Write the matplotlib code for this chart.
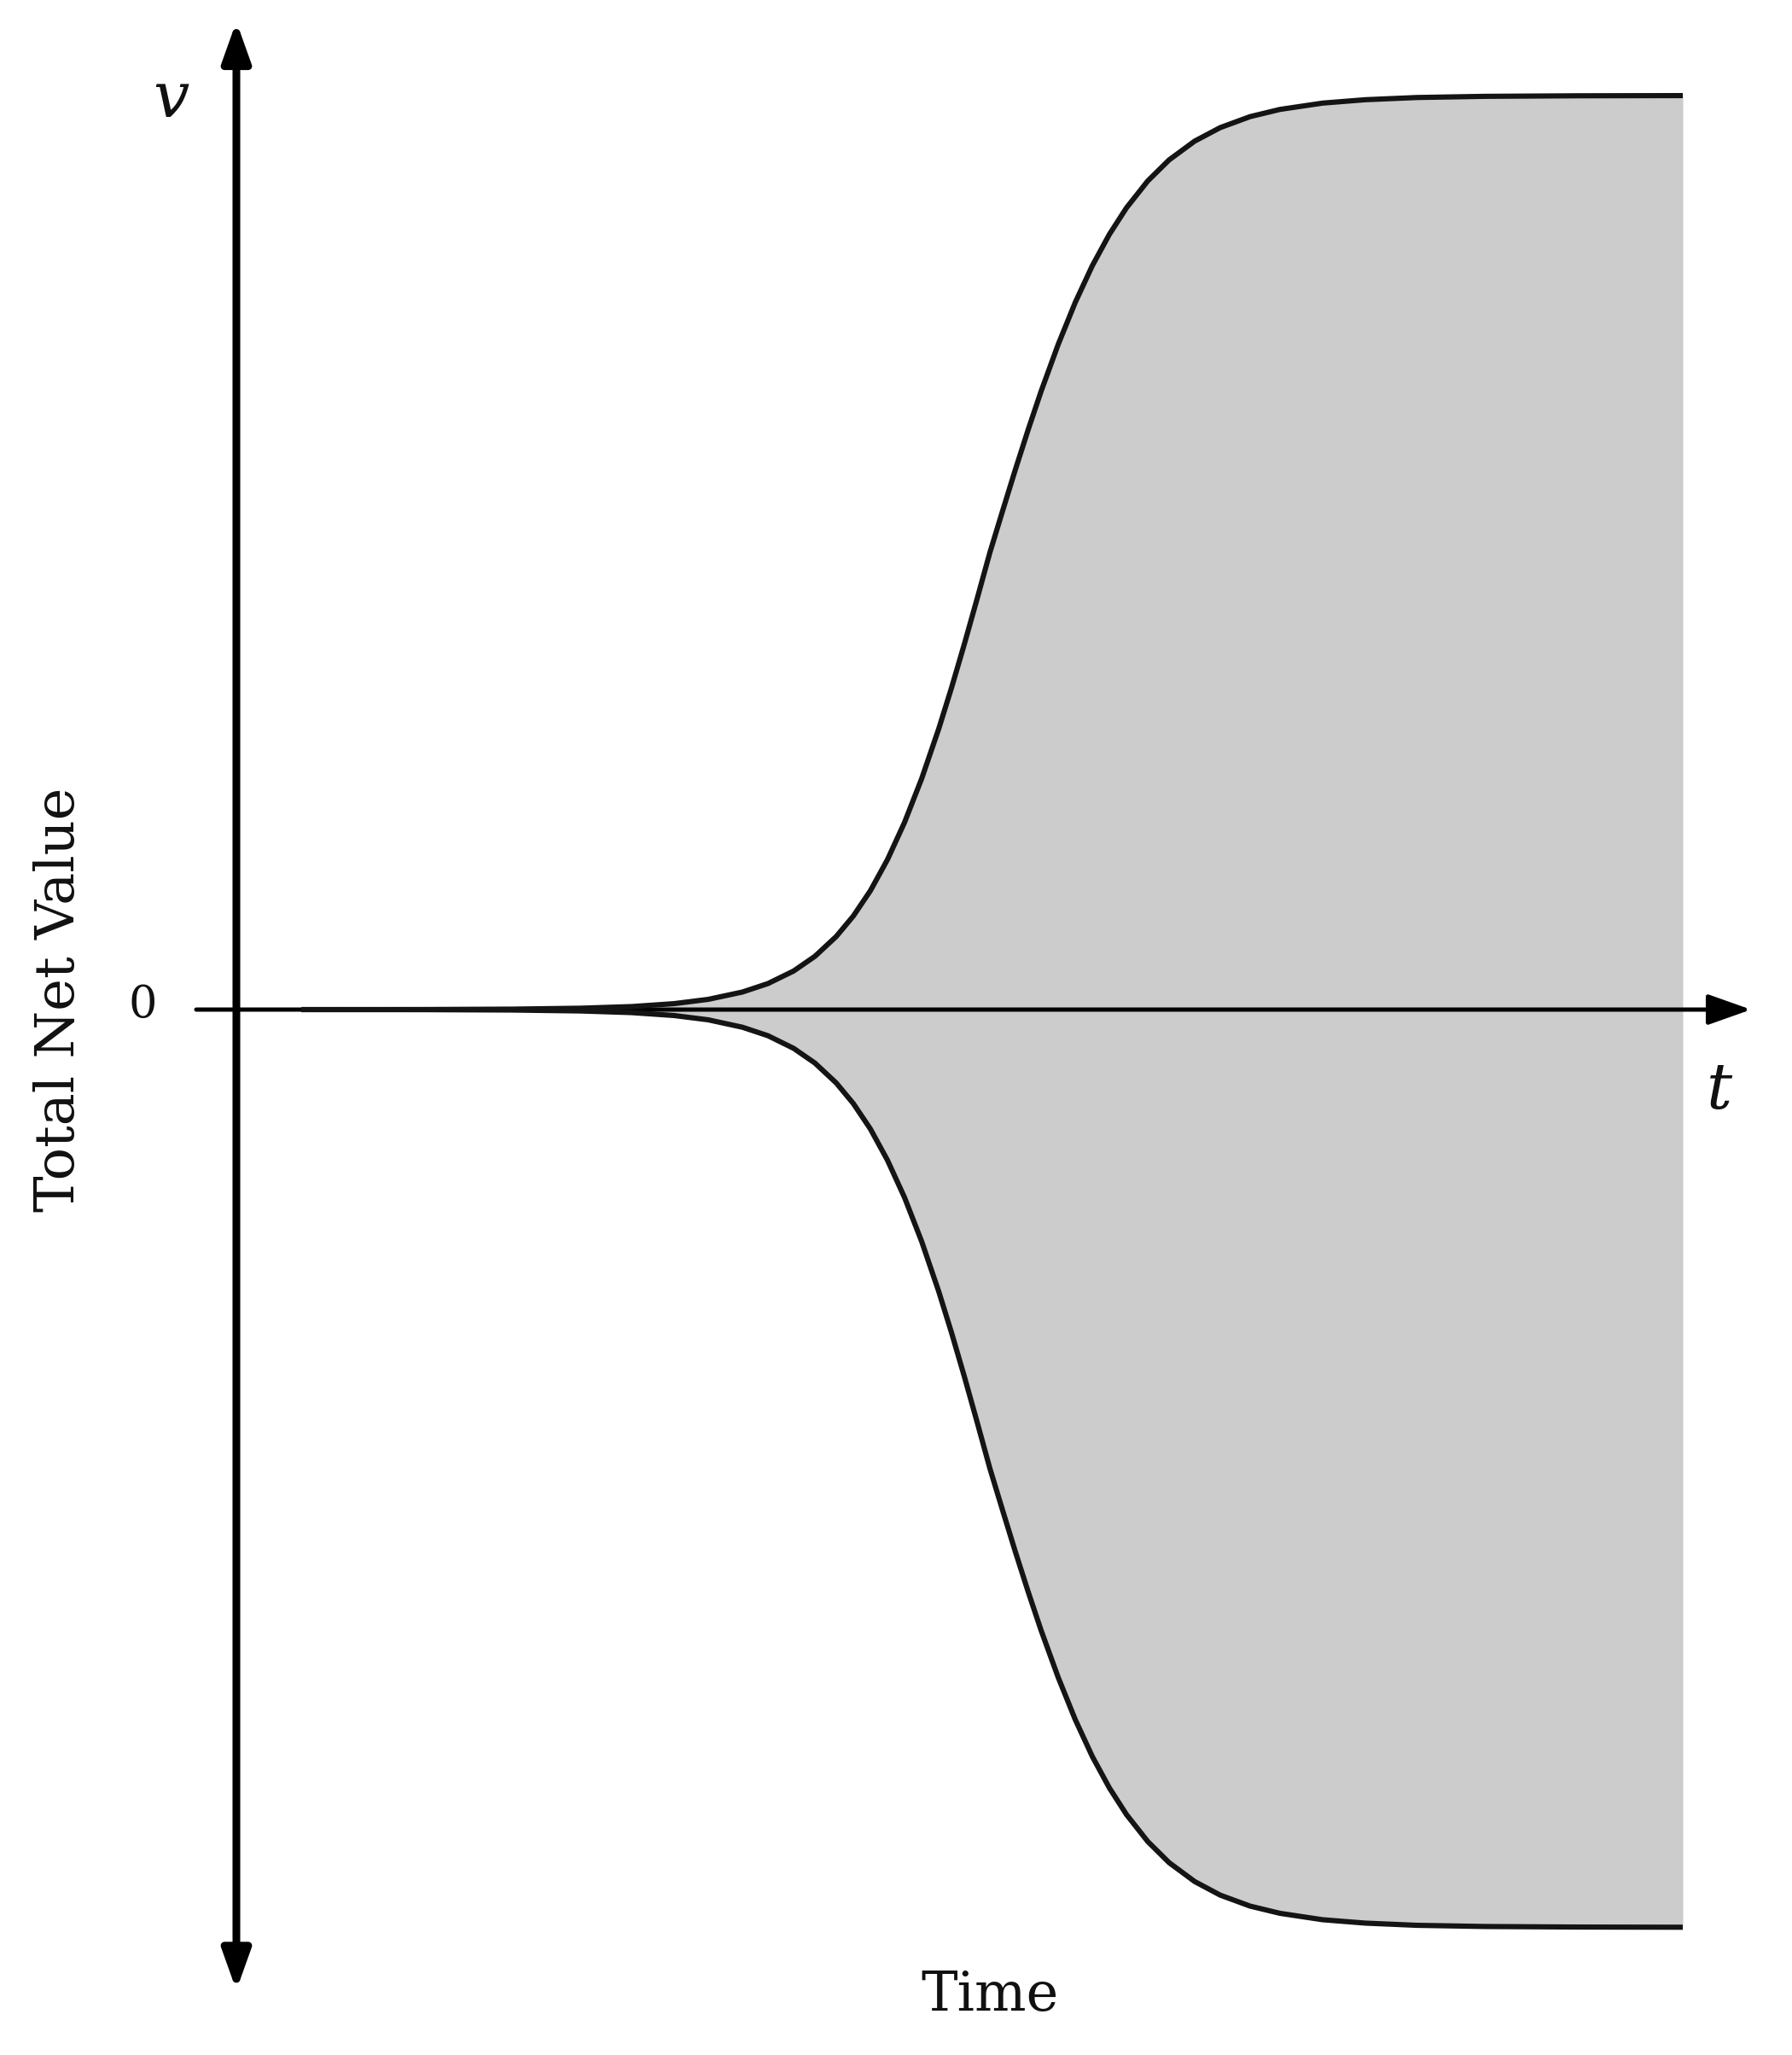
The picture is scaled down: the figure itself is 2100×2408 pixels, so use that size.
import matplotlib
matplotlib.use("Agg")
import matplotlib.pyplot as plt

# ---- data (time in arbitrary units, value normalised) ----
time_t = [0.76, 2.23, 3.23, 4.03, 4.63, 5.13, 5.53, 5.93, 6.23, 6.53, 6.78, 7.03,
          7.23, 7.43, 7.63, 7.83, 8.03, 8.23, 8.38, 8.53, 8.68, 8.83, 8.98, 9.13,
          9.28, 9.43, 9.63, 9.83, 10.03, 10.23, 10.43, 10.68, 10.93, 11.23, 11.53,
          11.88, 12.23, 12.73, 13.23, 13.83, 14.63, 15.73, 16.95]
upper_v = [0.0000, 0.0001, 0.0005, 0.0015, 0.0033, 0.0065, 0.0112, 0.0192, 0.0285,
           0.0422, 0.0583, 0.0800, 0.1024, 0.1301, 0.1641, 0.2048, 0.2525, 0.3070,
           0.3519, 0.3996, 0.4493, 0.5000, 0.5459, 0.5912, 0.6348, 0.6764, 0.7276,
           0.7736, 0.8138, 0.8481, 0.8771, 0.9066, 0.9296, 0.9502, 0.9650, 0.9770,
           0.9849, 0.9918, 0.9955, 0.9979, 0.9992, 0.9998, 1.0000]
lower_v = [0.0000, -0.0001, -0.0005, -0.0015, -0.0033, -0.0065, -0.0112, -0.0193,
           -0.0286, -0.0424, -0.0585, -0.0803, -0.1028, -0.1306, -0.1648, -0.2056,
           -0.2535, -0.3082, -0.3533, -0.4012, -0.4511, -0.5020, -0.5481, -0.5936,
           -0.6373, -0.6791, -0.7305, -0.7767, -0.8171, -0.8515, -0.8806, -0.9102,
           -0.9333, -0.9540, -0.9689, -0.9809, -0.9888, -0.9958, -0.9995, -1.0019,
           -1.0032, -1.0038, -1.0040]

y_axis_label = "Total Net Value"
x_axis_label = "Time"
y_symbol = "v"
x_symbol = "t"
zero_label = "0"

# ---- layout ----
X_LIM = (-2.77, 18.23)
Y_LIM = (-1.1438, 1.1046)
Y_ARROW = (-1.073, 1.081)
X_ARROW = (-0.47, 17.75)

fig = plt.figure(figsize=(21, 24.08), dpi=100)
ax = fig.add_axes([0, 0, 1, 1])
ax.set_xlim(*X_LIM)
ax.set_ylim(*Y_LIM)
ax.axis("off")

FILL = "#cccccc"
INK = "#141414"

ax.fill_between(time_t, lower_v, upper_v, color=FILL, lw=0, zorder=1)

# x axis (thin) with arrow
ax.annotate("", xy=(X_ARROW[1], 0), xytext=(X_ARROW[0], 0),
            arrowprops=dict(arrowstyle="-|>,head_length=1.55,head_width=0.55",
                            mutation_scale=20, lw=3.6, color="black",
                            shrinkA=0, shrinkB=0),
            zorder=2)

# y axis (thick) double arrow
ax.annotate("", xy=(0, Y_ARROW[1]), xytext=(0, Y_ARROW[0]),
            arrowprops=dict(arrowstyle="<|-|>,head_length=1.4,head_width=0.5",
                            mutation_scale=20, lw=6.5, color="black",
                            shrinkA=0, shrinkB=0),
            zorder=3)

ax.plot(time_t, upper_v, color=INK, lw=4.4, solid_capstyle="butt",
        solid_joinstyle="round", zorder=4)
ax.plot(time_t, lower_v, color=INK, lw=4.4, solid_capstyle="butt",
        solid_joinstyle="round", zorder=4)

serif = "DejaVu Serif"
ax.text(-0.77, 0.996, y_symbol, family=serif, style="italic", fontsize=54,
        ha="center", va="center", color="#111111")
ax.text(17.38, -0.089, x_symbol, family=serif, style="italic", fontsize=54,
        ha="center", va="center", color="#111111")
ax.text(-1.10, 0.005, zero_label, family=serif, fontsize=38,
        ha="center", va="center", color="#111111")
ax.text(8.83, -1.079, x_axis_label, family=serif, fontsize=46,
        ha="center", va="center", color="#111111")
ax.text(-2.08, 0.011, y_axis_label, family=serif, fontsize=46, rotation=90,
        ha="center", va="center", color="#111111")

fig.savefig("out.png", dpi=100)
